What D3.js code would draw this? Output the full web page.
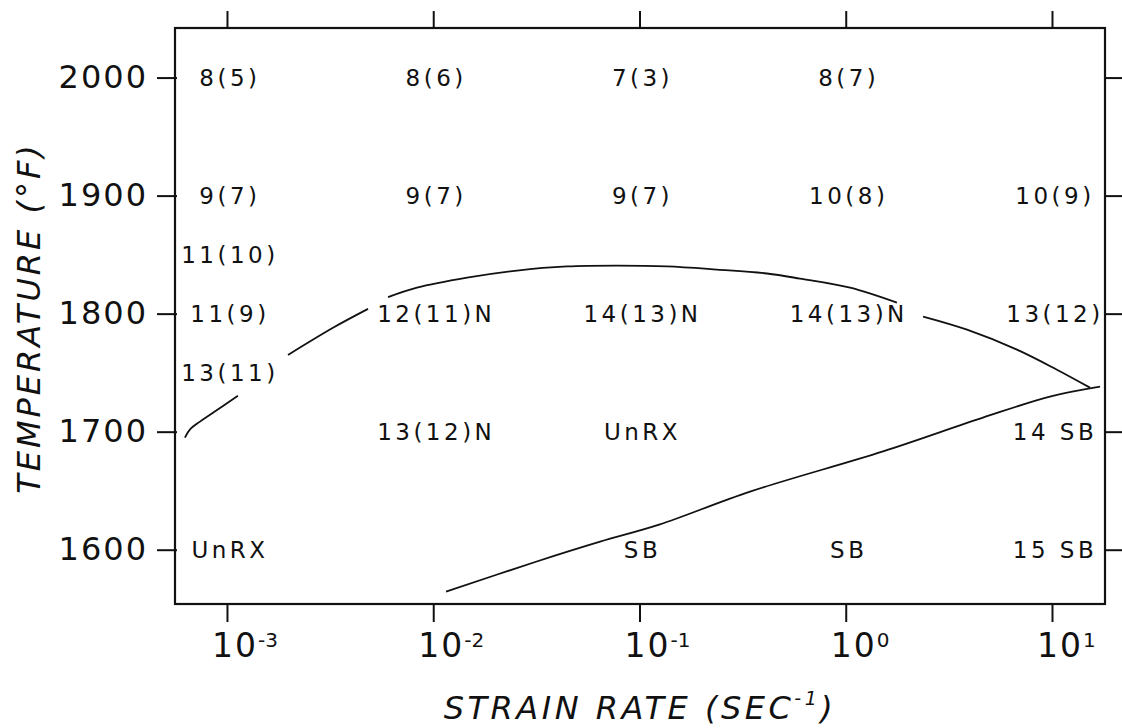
<!DOCTYPE html>
<html>
<head>
<meta charset="utf-8">
<script src="https://cdn.jsdelivr.net/npm/d3@7"></script>
<style>
  body { margin: 0; background: #fff; }
  svg { display: block; }
  text { font-family: "DejaVu Sans", sans-serif; fill: #111; }
</style>
</head>
<body>
<svg id="chart" width="1122" height="728"></svg>
<script>
// tick values
var rateTicks = [1e-3, 1e-2, 1e-1, 1, 10];
var rateExp = ["-3", "-2", "-1", "0", "1"];
var tempTicks = [1600, 1700, 1800, 1900, 2000];

// grain size labels, one row per temperature, one column per strain rate
var gridTemps = [2000, 1900, 1850, 1800, 1750, 1700, 1600];
var gridLabels = [
  ["8(5)", "8(6)", "7(3)", "8(7)", ""],
  ["9(7)", "9(7)", "9(7)", "10(8)", "10(9)"],
  ["11(10)", "", "", "", ""],
  ["11(9)", "12(11)N", "14(13)N", "14(13)N", "13(12)"],
  ["13(11)", "", "", "", ""],
  ["", "13(12)N", "UnRX", "", "14 SB"],
  ["UnRX", "", "SB", "SB", "15 SB"]
];

// upper boundary (log10 strain rate, temperature), null = break in the line
var upperExp  = [-3.204, -3.179, -3.131, -3.068, -2.947, null, -2.704, -2.486, -2.316, null,
                 -2.219, -2.079, -1.836, -1.594, -1.352, -1.109, -0.867, -0.624, -0.382, -0.222, 0.021, 0.248, null,
                 0.375, 0.588, 0.830, 1.024, 1.184];
var upperTemp = [1695, 1702, 1708.5, 1716, 1730.5, null, 1765, 1788, 1804, null,
                 1814, 1822, 1830.5, 1836.5, 1840, 1840.7, 1840, 1837.3, 1834, 1829.7, 1822, 1809.3, null,
                 1797.5, 1786.4, 1769.5, 1752.5, 1737.3];

// lower boundary
var lowerExp  = [-1.938, -1.502, -1.191, -0.905, -0.464, 0.181, 0.665, 0.990, 1.233];
var lowerTemp = [1564.4, 1589.8, 1606.8, 1621.2, 1649.2, 1683.3, 1711.9, 1729.7, 1738.1];

var plotL = 175, plotR = 1105, plotT = 28, plotB = 604;

var svg = d3.select("#chart");

var x = d3.scaleLog().domain([Math.pow(10, -3.252), Math.pow(10, 1.257)]).range([plotL, plotR]);
var y = d3.scaleLinear().domain([1554, 2042]).range([plotB, plotT]);

// frame
svg.append("rect")
  .attr("x", plotL).attr("y", plotT)
  .attr("width", plotR - plotL).attr("height", plotB - plotT)
  .attr("fill", "none").attr("stroke", "#111").attr("stroke-width", 2.2);

function styleAxis(g) {
  g.select(".domain").remove();
  g.selectAll("line").attr("stroke", "#111").attr("stroke-width", 2);
}

// left axis with labels
var gl = svg.append("g").attr("transform", "translate(" + (plotL + 2) + ",0)")
  .call(d3.axisLeft(y).tickValues(tempTicks).tickSize(20).tickPadding(9).tickFormat(d3.format("d")));
styleAxis(gl);
gl.selectAll("text")
  .style("font-family", "DejaVu Sans")
  .style("font-size", "32px").style("letter-spacing", "2px")
  .attr("fill", "#111");

// right axis, ticks only
var gr = svg.append("g").attr("transform", "translate(" + plotR + ",0)")
  .call(d3.axisRight(y).tickValues(tempTicks).tickSize(17).tickFormat(""));
styleAxis(gr);

// top axis, ticks only
var gt = svg.append("g").attr("transform", "translate(0," + plotT + ")")
  .call(d3.axisTop(x).tickValues(rateTicks).tickSize(17).tickFormat(""));
styleAxis(gt);

// bottom axis
var gb = svg.append("g").attr("transform", "translate(0," + plotB + ")")
  .call(d3.axisBottom(x).tickValues(rateTicks).tickSize(18).tickFormat(""));
styleAxis(gb);

var bl = svg.append("g").selectAll("text")
  .data(rateTicks)
  .enter()
  .append("text")
  .attr("x", function(d) { return x(d) - 15; })
  .attr("y", 657);
bl.append("tspan").style("font-size", "33px").style("letter-spacing", "2px").text("10");
bl.append("tspan").style("font-size", "20px").attr("dy", -10)
  .text(function(d, i) { return rateExp[i]; });

// boundary lines
var line = d3.line()
  .defined(function(d) { return d[0] !== null; })
  .x(function(d) { return x(Math.pow(10, d[0])); })
  .y(function(d) { return y(d[1]); })
  .curve(d3.curveCatmullRom);

svg.append("path")
  .datum(upperExp.map(function(e, i) { return [e, upperTemp[i]]; }))
  .attr("d", line)
  .attr("fill", "none").attr("stroke", "#111").attr("stroke-width", 1.8);

svg.append("path")
  .datum(lowerExp.map(function(e, i) { return [e, lowerTemp[i]]; }))
  .attr("d", line)
  .attr("fill", "none").attr("stroke", "#111").attr("stroke-width", 1.8);

// cell labels
gridTemps.forEach(function(t, r) {
  gridLabels[r].forEach(function(txt, c) {
    if (txt === "") return;
    svg.append("text")
      .attr("x", x(rateTicks[c]) + 3)
      .attr("y", y(t))
      .attr("dy", "0.36em")
      .attr("text-anchor", "middle")
      .style("font-size", "23px")
      .style("letter-spacing", "3.5px")
      .text(txt);
  });
});

// axis titles
svg.append("text")
  .attr("transform", "translate(40,318) rotate(-90)")
  .attr("text-anchor", "middle")
  .style("font-size", "32px").style("font-style", "italic").style("letter-spacing", "3px")
  .text("TEMPERATURE  (\u00B0F)");

var xt = svg.append("text")
  .attr("x", 640).attr("y", 719)
  .attr("text-anchor", "middle")
  .style("font-size", "32px").style("font-style", "italic").style("letter-spacing", "3.5px");
xt.append("tspan").text("STRAIN  RATE  (SEC");
xt.append("tspan").style("font-size", "19px").attr("dy", -14).text("-1");
xt.append("tspan").attr("dy", 14).text(")");
</script>
</body>
</html>
